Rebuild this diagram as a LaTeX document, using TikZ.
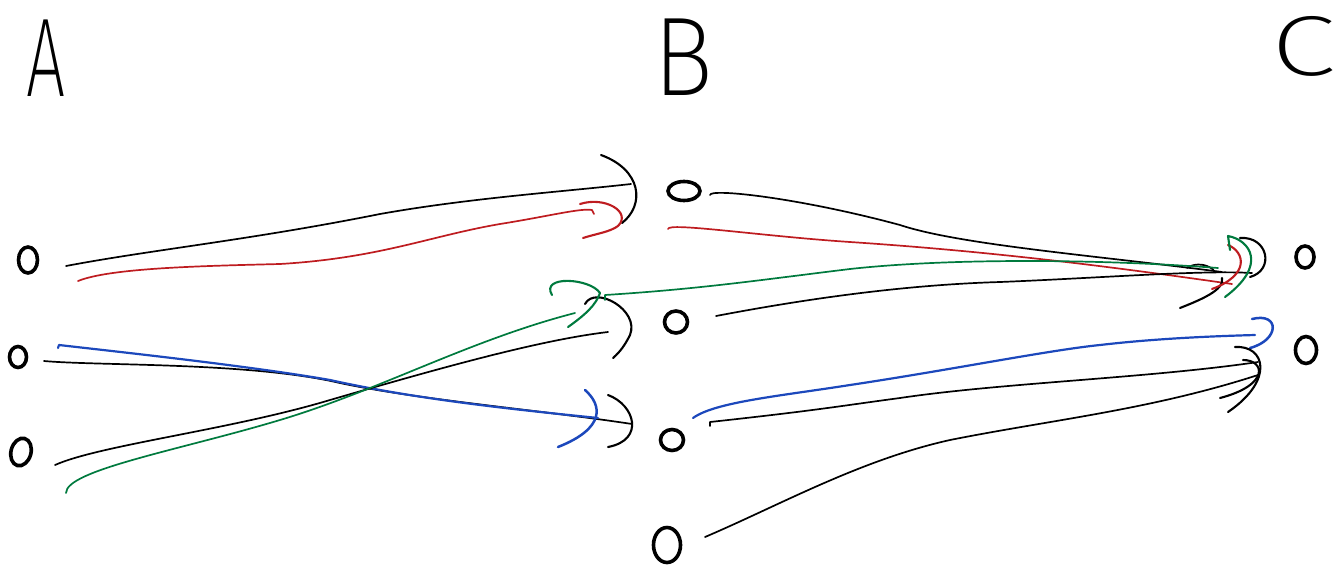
\documentclass[tikz,border=0pt]{standalone}
\usepackage{fontspec}
\usetikzlibrary{shapes.geometric}
\newfontfamily\hand{Fira Sans}[UprightFont={* ExtraLight}]
\definecolor{penred}{RGB}{190,28,32}
\definecolor{pengreen}{RGB}{0,122,62}
\definecolor{penblue}{RGB}{28,72,188}
\tikzset{
  letter/.style={inner sep=0pt, font=\hand\fontsize{112}{112}\selectfont},
  dot/.style={ellipse, draw, line width=3.6pt, inner sep=0pt},
  link/.style={line width=1.7pt, line cap=round, line join=round},
  head/.style={line width=2.1pt, line cap=round, line join=round},
}
\begin{document}
\begin{tikzpicture}[x=1pt, y=-1pt]
\useasboundingbox (0,0) rectangle (1339,579);

% column headings
\node[letter] (A) at (46,58) {\scalebox{0.62}[1]{A}};
\node[letter] (B) at (683,57) {\scalebox{0.9}[1]{B}};
\node[letter] (C) at (1304,46) {\scalebox{1.05}[0.76]{C}};

% states
\node[dot, minimum width=19pt, minimum height=26pt] (a1) at (28,260) {};
\node[dot, minimum width=17pt, minimum height=21pt] (a2) at (18,357) {};
\node[dot, minimum width=20pt, minimum height=28pt, rotate=-15] (a3) at (21,452) {};
\node[dot, minimum width=32pt, minimum height=19pt] (b1) at (684,191) {};
\node[dot, minimum width=23pt, minimum height=22pt] (b2) at (676,322) {};
\node[dot, minimum width=23pt, minimum height=21pt] (b3) at (672,440) {};
\node[dot, minimum width=27pt, minimum height=35pt] (b4) at (667,545) {};
\node[dot, minimum width=18pt, minimum height=22pt] (c1) at (1305,257) {};
\node[dot, minimum width=21pt, minimum height=27pt] (c2) at (1306,350) {};

% stroke ends
\coordinate (a1k) at (66,266);  \coordinate (a1r) at (78,281);
\coordinate (a2k) at (44,361);  \coordinate (a2b) at (58,348);
\coordinate (a3k) at (55,465);  \coordinate (a3g) at (66,493);
\coordinate (b1k) at (710,195); \coordinate (b1r) at (668,229);
\coordinate (b2k) at (716,316); \coordinate (b2g) at (605,300);
\coordinate (b3k) at (710,426); \coordinate (b3b) at (693,418);
\coordinate (b4k) at (705,537);

\coordinate (inB1k) at (631,184); \coordinate (inB1r) at (592,210);
\coordinate (inB2k) at (608,332); \coordinate (inB2g) at (575,313);
\coordinate (inB3k) at (632,424); \coordinate (inB3b) at (598,418);
\coordinate (inC1k) at (1222,272); \coordinate (inC1r) at (1232,284);
\coordinate (inC1g) at (1218,268); \coordinate (inC1x) at (1252,273);
\coordinate (inC2b) at (1255,335); \coordinate (inC2k) at (1258,362);
\coordinate (inC2x) at (1258,375);

% A -> B
\draw[link] (a1k) .. controls (150,250) and (250,240) .. (380,214)
  .. controls (470,198) and (560,192) .. (inB1k);
\draw[head] (601,155) .. controls (642,170) and (645,205) .. (622,223);
\draw[link, penred] (a1r) .. controls (110,268) and (200,266) .. (280,264)
  .. controls (380,258) and (430,236) .. (500,224)
  .. controls (550,216) and (580,208) .. (inB1r) -- ++(2,4);
\draw[head, penred] (580,204) .. controls (605,196) and (632,212) .. (618,226)
  .. controls (610,232) and (595,234) .. (583,238);

\draw[link] (a2k) .. controls (100,366) and (250,362) .. (340,383)
  .. controls (420,400) and (540,410) .. (inB3k);
\draw[head] (608,395) .. controls (635,405) and (645,440) .. (608,447);
\draw[link, penblue, line width=2.2pt] (a2b) -- ++(1,-3)
  .. controls (120,352) and (250,366) .. (330,380)
  .. controls (420,400) and (520,410) .. (inB3b);
\draw[head, penblue, line width=2.5pt] (585,390) .. controls (602,405) and (606,428) .. (558,447);

\draw[link] (a3k) .. controls (100,445) and (230,430) .. (330,400)
  .. controls (440,368) and (540,340) .. (inB2k);
\draw[head] (585,304) .. controls (595,285) and (640,310) .. (630,335)
  .. controls (625,345) and (620,352) .. (613,358);
\draw[link, pengreen] (a3g) .. controls (66,470) and (180,450) .. (280,420)
  .. controls (380,390) and (470,340) .. (inB2g);
\draw[head, pengreen] (552,295) .. controls (540,275) and (590,278) .. (600,293)
  .. controls (596,305) and (585,315) .. (568,327);

% B -> C
\draw[link] (b1k) .. controls (710,188) and (800,198) .. (900,225)
  .. controls (960,245) and (1100,256) .. (inC1k);
\draw[link] (1187,268) .. controls (1195,262) and (1210,264) .. (1215,272);
\draw[link, penred] (b1r) .. controls (668,222) and (760,236) .. (850,242)
  .. controls (1000,252) and (1120,268) .. (inC1r);
\draw[link, pengreen] (b2g) -- ++(0,-5) .. controls (700,289) and (760,280) .. (850,269)
  .. controls (950,258) and (1100,259) .. (inC1g);
\draw[link] (b2k) .. controls (800,300) and (900,285) .. (1000,282)
  .. controls (1100,278) and (1200,270) .. (inC1x);
\draw[head] (1240,238) .. controls (1268,236) and (1275,270) .. (1250,277);
\draw[head] (1180,308) .. controls (1200,300) and (1225,290) .. (1222,278);
\draw[head, penred] (1228,245) .. controls (1245,252) and (1250,275) .. (1212,289);
\draw[head, pengreen] (1230,250) -- (1228,236) .. controls (1250,240) and (1268,265) .. (1225,297);

\draw[link, penblue, line width=2.2pt] (b3b) .. controls (715,402) and (780,396) .. (850,385)
  .. controls (950,370) and (1050,350) .. (1100,345)
  .. controls (1160,338) and (1220,336) .. (inC2b);
\draw[head, penblue, line width=2.5pt] (1252,319) .. controls (1280,312) and (1280,340) .. (1250,348);
\draw[link] (b3k) -- ++(0,-4) .. controls (820,410) and (840,406) .. (900,398)
  .. controls (1000,383) and (1150,378) .. (inC2k);
\draw[link] (b4k) .. controls (780,505) and (860,460) .. (950,440)
  .. controls (1050,420) and (1150,410) .. (inC2x);
\draw[head] (1235,347) .. controls (1265,345) and (1275,380) .. (1228,412);
\draw[head] (1243,360) .. controls (1265,360) and (1270,385) .. (1220,398);
\end{tikzpicture}
\end{document}
